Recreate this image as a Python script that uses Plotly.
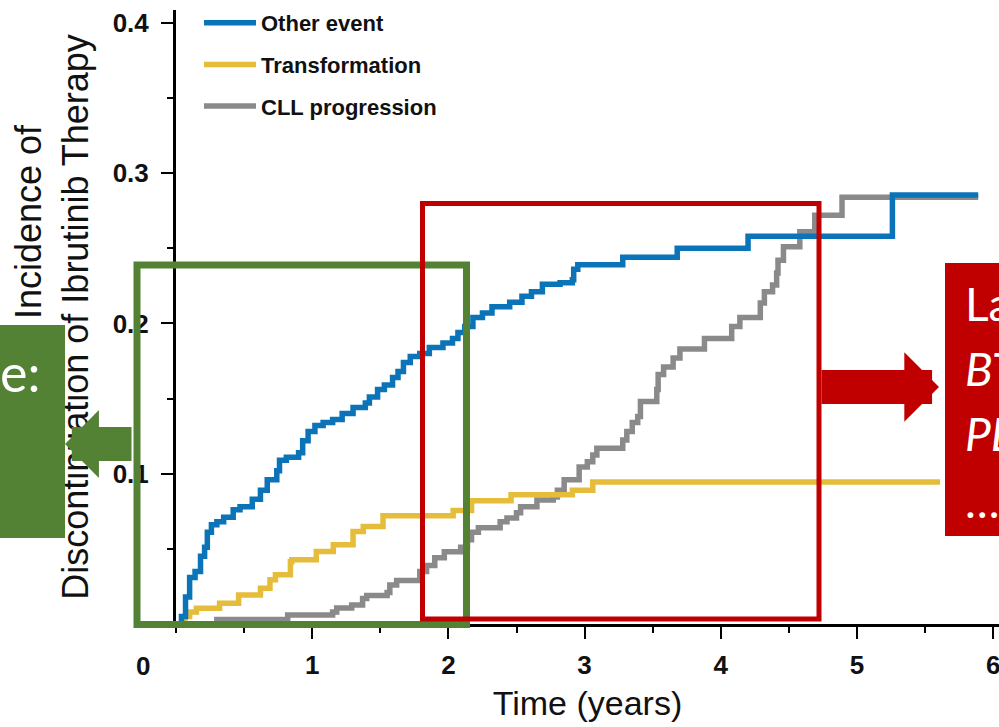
import plotly.graph_objects as go

# ---------------- data ----------------
other_t = [0.02, 0.04, 0.07, 0.10, 0.14, 0.18, 0.21, 0.23, 0.26, 0.30, 0.35, 0.42, 0.47,
           0.56, 0.62, 0.67, 0.74, 0.76, 0.81, 0.90, 0.93, 0.97, 1.02, 1.08, 1.15, 1.22,
           1.30, 1.39, 1.42, 1.48, 1.53, 1.59, 1.63, 1.67, 1.72, 1.79, 1.86, 1.96, 2.03,
           2.07, 2.12, 2.18, 2.25, 2.32, 2.45, 2.54, 2.61, 2.69, 2.82, 2.91, 2.92, 2.95,
           3.28, 3.68, 4.20, 5.26, 5.89]
other_v = [0.000, 0.005, 0.018, 0.031, 0.035, 0.045, 0.051, 0.061, 0.066, 0.068, 0.071,
           0.076, 0.078, 0.083, 0.089, 0.096, 0.102, 0.109, 0.111, 0.114, 0.122, 0.128,
           0.132, 0.134, 0.136, 0.140, 0.144, 0.147, 0.151, 0.156, 0.159, 0.164, 0.168,
           0.174, 0.178, 0.180, 0.184, 0.187, 0.190, 0.194, 0.198, 0.204, 0.207, 0.211,
           0.214, 0.218, 0.221, 0.226, 0.227, 0.229, 0.236, 0.239, 0.244, 0.250, 0.258,
           0.2855, 0.2855]

transf_t = [0.05, 0.066, 0.10, 0.15, 0.32, 0.46, 0.62, 0.69, 0.73, 0.84, 0.85, 1.03,
            1.155, 1.30, 1.375, 1.52, 2.035, 2.17, 2.46, 2.91, 3.06, 5.61]
transf_v = [0.000, 0.005, 0.008, 0.0105, 0.0138, 0.0193, 0.0238, 0.0295, 0.0328, 0.0415,
            0.0427, 0.0482, 0.0528, 0.0615, 0.0648, 0.072, 0.0755, 0.082, 0.086, 0.089,
            0.0945, 0.0945]

cll_t = [0.28, 0.30, 0.82, 1.15, 1.18, 1.29, 1.37, 1.40, 1.55, 1.57, 1.62, 1.79, 1.84,
         1.90, 1.97, 2.09, 2.14, 2.17, 2.22, 2.38, 2.43, 2.50, 2.53, 2.65, 2.77, 2.80,
         2.85, 2.96, 3.02, 3.06, 3.09, 3.28, 3.31, 3.35, 3.39, 3.41, 3.53, 3.54, 3.58,
         3.65, 3.70, 3.88, 4.08, 4.14, 4.29, 4.32, 4.38, 4.41, 4.42, 4.46, 4.58, 4.69,
         4.89, 5.89]
cll_v = [0.000, 0.003, 0.006, 0.008, 0.0106, 0.0126, 0.017, 0.019, 0.021, 0.026, 0.029,
         0.035, 0.039, 0.044, 0.048, 0.051, 0.056, 0.061, 0.064, 0.068, 0.0705, 0.074,
         0.078, 0.0825, 0.0845, 0.089, 0.096, 0.1045, 0.108, 0.1125, 0.117, 0.1225,
         0.128, 0.134, 0.138, 0.148, 0.156, 0.166, 0.171, 0.177, 0.183, 0.190, 0.198,
         0.204, 0.2135, 0.221, 0.2255, 0.2335, 0.242, 0.251, 0.261, 0.272, 0.284, 0.284]

series_names = ["Other event", "Transformation", "CLL progression"]
series_colors = ["#0B74B9", "#E6BD3A", "#8A8A8A"]
series_t = [other_t, transf_t, cll_t]
series_v = [other_v, transf_v, cll_v]

x_ticks = [1, 2, 3, 4, 5, 6]
y_ticks = [0.1, 0.2, 0.3, 0.4]
y_tick_text = ["0.1", "0.2", "0.3", "0.4"]

# ---------------- layout geometry ----------------
W, H = 999, 727
ML, MT, MB = 176, 10, 103
PW, PH = W - ML, H - MT - MB


def pxx(x):
    return (x - ML) / PW


def pxy(y):
    return (MT + PH - y) / PH


SANS = "Liberation Sans, Arial, sans-serif"
BOXFONT = "Lato, Open Sans, sans-serif"
GREEN = "#548235"
RED = "#C00000"

fig = go.Figure()
# draw in reverse so blue sits on top; legendrank keeps the legend order
for i in reversed(range(3)):
    fig.add_trace(go.Scatter(x=series_t[i], y=series_v[i], mode="lines",
                             name=series_names[i], legendgroup=series_names[i],
                             legendrank=i + 1,
                             line=dict(color=series_colors[i], width=5.5, shape="hv"),
                             hoverinfo="skip"))

fig.update_layout(
    width=W, height=H,
    margin=dict(l=ML, r=0, t=MT, b=MB, pad=0, autoexpand=False),
    paper_bgcolor="white", plot_bgcolor="white",
    showlegend=True,
    legend=dict(x=pxx(199), y=pxy(2), xanchor="left", yanchor="top",
                traceorder="grouped", tracegroupgap=10,
                itemwidth=52,
                font=dict(family=SANS, size=22, color="#111111", weight="bold"),
                bgcolor="rgba(0,0,0,0)"),
    xaxis=dict(range=[0, PW / 136.2], showgrid=False, zeroline=False,
               automargin=False, ticklabeloverflow="allow",
               showline=True, linecolor="black", linewidth=3,
               tickmode="array", tickvals=x_ticks, ticktext=[str(v) for v in x_ticks],
               ticks="outside", ticklen=12, tickwidth=2, tickcolor="black",
               ticklabelstandoff=4,
               tickfont=dict(family=SANS, size=26, color="#111111", weight="bold"),
               minor=dict(dtick=0.5, ticks="outside", ticklen=6, tickwidth=2,
                          tickcolor="black"),
               title=dict(text="Time (years)", standoff=12,
                          font=dict(family=SANS, size=34, color="#111111"))),
    yaxis=dict(range=[0, PH / 1503.0], showgrid=False, zeroline=False,
               automargin=False,
               showline=True, linecolor="black", linewidth=3,
               tickmode="array", tickvals=y_ticks, ticktext=y_tick_text,
               ticks="outside", ticklen=12, tickwidth=2, tickcolor="black",
               ticklabelstandoff=7,
               tickfont=dict(family=SANS, size=26, color="#111111", weight="bold"),
               minor=dict(dtick=0.05, ticks="outside", ticklen=6, tickwidth=2,
                          tickcolor="black"),
               title=dict(text="Cumulative Incidence of<br>Discontinuation of Ibrutinib Therapy",
                          standoff=14,
                          font=dict(family=SANS, size=36, color="#111111"))),
)

# x tick label "0" (placed left of the axis as in the original)
fig.add_annotation(xref="paper", yref="paper", x=pxx(143), y=pxy(666), text="0",
                   showarrow=False, xanchor="center", yanchor="middle",
                   font=dict(family=SANS, size=26, color="#111111", weight="bold"))

# ---------------- overlay highlight boxes ----------------
fig.add_shape(type="rect", xref="paper", yref="paper", layer="above",
              x0=pxx(137), x1=pxx(466.5), y0=pxy(624.5), y1=pxy(265),
              line=dict(color=GREEN, width=7), fillcolor="rgba(0,0,0,0)")
fig.add_shape(type="rect", xref="paper", yref="paper", layer="above",
              x0=pxx(422.5), x1=pxx(819), y0=pxy(619), y1=pxy(203.5),
              line=dict(color=RED, width=5), fillcolor="rgba(0,0,0,0)")

# red text box (right)
fig.add_shape(type="rect", xref="paper", yref="paper", layer="above",
              x0=pxx(945), x1=pxx(1020), y0=pxy(536), y1=pxy(263),
              line=dict(width=0), fillcolor=RED)
for txt, yc in [("La", 303), ("<i>BT</i>", 368), ("<i>PL</i>", 433), ("…", 500)]:
    fig.add_annotation(xref="paper", yref="paper", x=pxx(963), y=pxy(yc), text=txt,
                       showarrow=False, xanchor="left", yanchor="middle",
                       font=dict(family=BOXFONT, size=46, color="white"))

# green text box (left): annotations so it sits over the axis title
fig.add_annotation(xref="paper", yref="paper", x=pxx(0), y=pxy(325),
                   xanchor="left", yanchor="top", text=" ", showarrow=False,
                   width=65, height=213, borderpad=0, borderwidth=0,
                   bgcolor=GREEN, font=dict(family=BOXFONT, size=10, color=GREEN))
fig.add_annotation(xref="paper", yref="paper", x=pxx(42), y=pxy(372),
                   xanchor="right", yanchor="middle", text="e:", showarrow=False,
                   font=dict(family=BOXFONT, size=52, color="white"))

# block arrows
fig.add_annotation(xref="paper", yref="paper", x=pxx(65), y=pxy(444), text="",
                   showarrow=True, ax=68, ay=0, arrowhead=1, arrowwidth=34,
                   arrowsize=0.333, arrowcolor=GREEN, standoff=0)
fig.add_annotation(xref="paper", yref="paper", x=pxx(939), y=pxy(387), text="",
                   showarrow=True, ax=-119, ay=0, arrowhead=1, arrowwidth=34,
                   arrowsize=0.34, arrowcolor=RED, standoff=0)

fig.write_html("out.html", post_script="document.body.style.margin='0';",
               config={"displayModeBar": False})
